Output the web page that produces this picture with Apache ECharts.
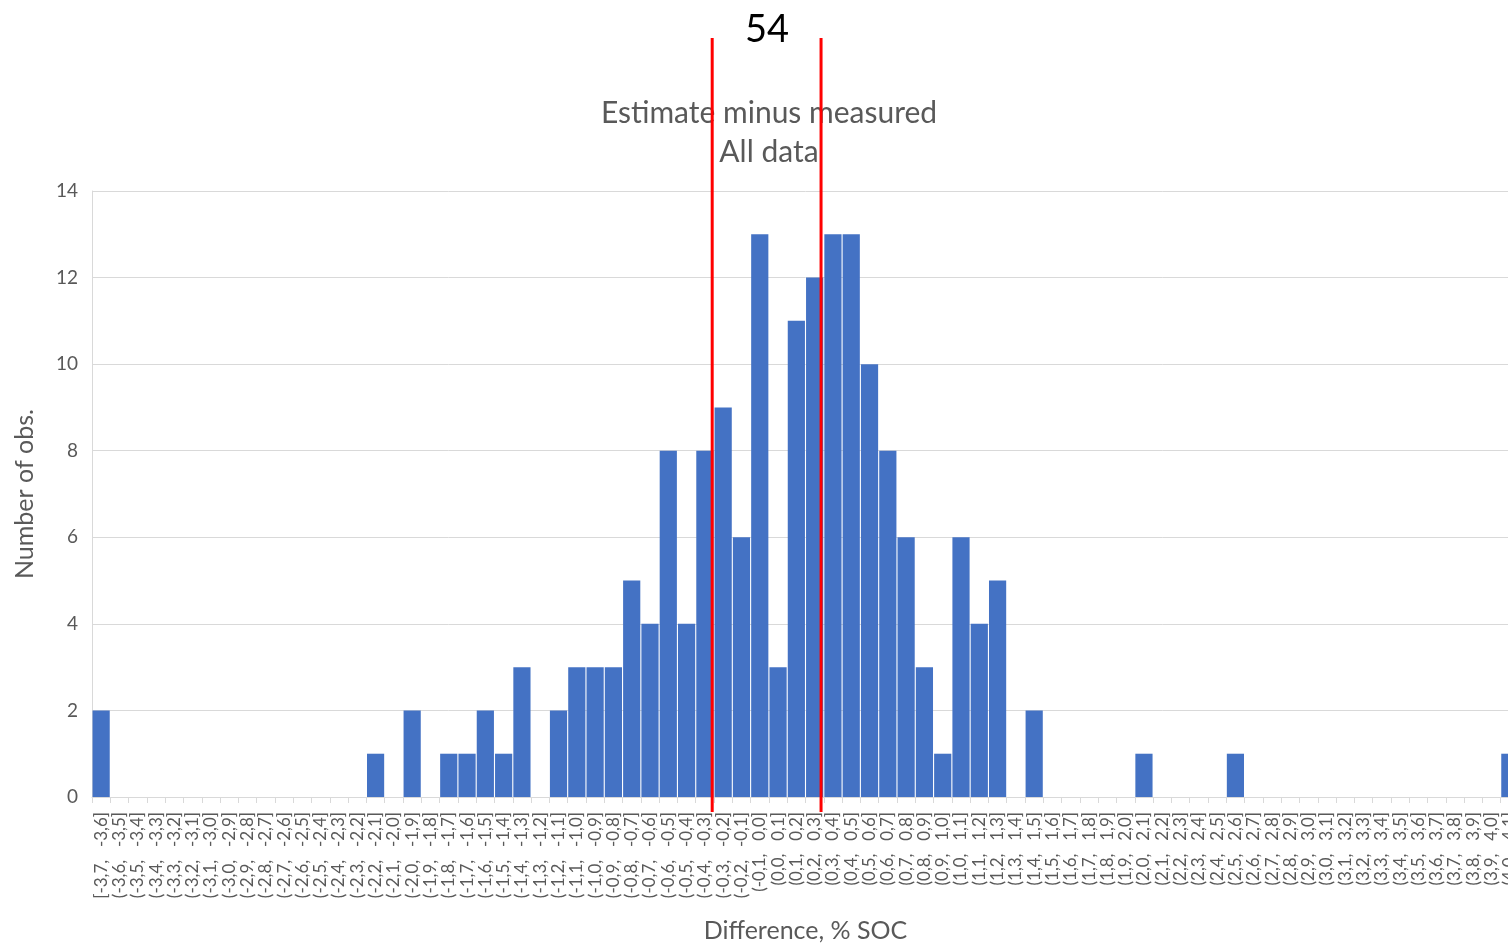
<!DOCTYPE html>
<html>
<head>
<meta charset="utf-8">
<script src="https://cdn.jsdelivr.net/npm/echarts@6/dist/echarts.min.js"></script>
<style>html,body{margin:0;padding:0;background:#fff;overflow:hidden;width:1508px;height:944px}#c{width:1519px;height:944px}</style>
</head>
<body>
<div id="c"></div>
<script>
// Bin lower edges in tenths: 78 bins from -3.7 to 4.1
const binLowerTenths = [];
for (let t = -37; t < 41; t++) binLowerTenths.push(t);
function fmt(t){ const v=(t/10).toFixed(1).replace('.',','); return v === '-0,0' ? '0,0' : v; }
const categories = binLowerTenths.map((t,i) => (i===0?'[':'(') + fmt(t) + ',\u2003' + fmt(t+1) + ']');
// observed counts per bin (by bin index)
const countsByIndex = {0:2,15:1,17:2,19:1,20:1,21:2,22:1,23:3,25:2,26:3,27:3,28:3,29:5,30:4,31:8,32:4,33:8,34:9,35:6,36:13,37:3,38:11,39:12,40:13,41:13,42:10,43:8,44:6,45:3,46:1,47:6,48:4,49:5,51:2,57:1,62:1,77:1};
const counts = categories.map((c,i) => countsByIndex[i] || 0);
const yTicks = [0,2,4,6,8,10,12,14];
const refLines = [-0.31, 0.285];
const headline = '54';
const titleLines = ['Estimate minus measured', 'All data'];

const chart = echarts.init(document.getElementById('c'), null, {renderer:'canvas'});
const grey = '#595959';
const font = 'Lato, "Liberation Sans", sans-serif';
chart.setOption({
  animation:false,
  title:[
    {text: headline, left: 762, textAlign:'center', top: 6, textStyle:{fontFamily:font, fontSize:38, fontWeight:'normal', color:'#000'}},
    {text: titleLines.join('\n'), left: 764, textAlign:'center', top: 89, textStyle:{fontFamily:font, fontSize:30, fontWeight:'normal', color:grey, lineHeight:39}}
  ],
  grid:[
    {left:92, right:0, top:191, bottom:147, outerBoundsMode:'none', containLabel:false},
    {left:92, right:0, top:38, bottom:132, outerBoundsMode:'none', containLabel:false}
  ],
  xAxis:[
    {type:'category', gridIndex:0, data:categories,
     axisLine:{lineStyle:{color:'#d9d9d9', width:1}},
     axisTick:{show:true, length:6, lineStyle:{color:'#d9d9d9'}, alignWithLabel:false},
     axisLabel:{interval:0, rotate:90, margin:15, color:grey, fontSize:17, fontFamily:font},
     name:'Difference, % SOC', nameLocation:'middle', nameGap:121,
     nameTextStyle:{color:grey, fontSize:25, fontFamily:font}},
    {type:'value', gridIndex:1, min:-3.7, max:4.1, show:false}
  ],
  yAxis:[
    {type:'value', gridIndex:0, min:0, max:14, interval:2,
     axisLine:{show:true, lineStyle:{color:'#d9d9d9'}},
     splitLine:{lineStyle:{color:'#d9d9d9', width:1}},
     axisLabel:{color:grey, fontSize:19, fontFamily:font, margin:14},
     name:'Number of obs.', nameLocation:'middle', nameGap:55,
     nameTextStyle:{color:grey, fontSize:25, fontFamily:font}},
    {type:'value', gridIndex:1, min:0, max:1, show:false}
  ],
  series:[
    {type:'bar', xAxisIndex:0, yAxisIndex:0, data:counts, barCategoryGap:'6%',
     itemStyle:{color:'#4472C4'}},
    ...refLines.map(v => ({type:'line', xAxisIndex:1, yAxisIndex:1, data:[[v,0],[v,1]],
      symbol:'none', lineStyle:{color:'#FF0000', width:3}, z:10, silent:true}))
  ]
});
</script>
</body>
</html>
